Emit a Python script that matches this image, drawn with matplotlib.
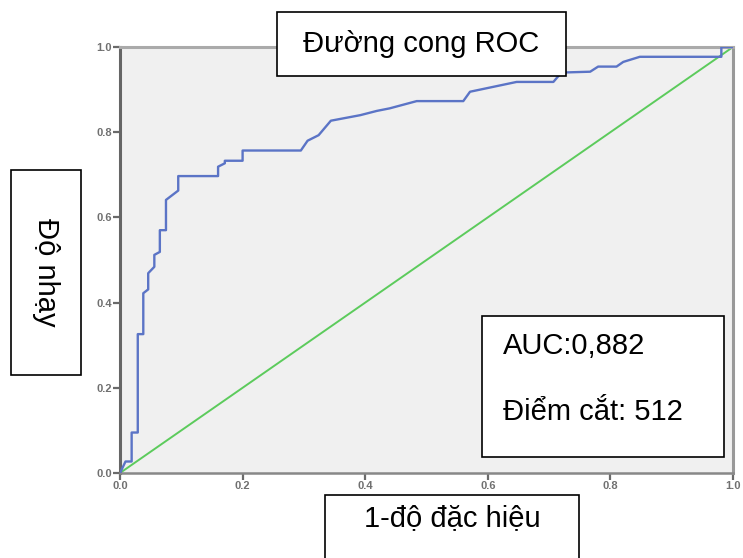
import numpy as np
import matplotlib.pyplot as plt
from matplotlib.patches import Rectangle

plt.rcParams['font.family'] = ['Liberation Sans', 'DejaVu Sans']

# ROC curve points (1 - specificity, sensitivity)
fpr = [0.0, 0.009, 0.019, 0.019, 0.029, 0.029, 0.038, 0.038, 0.046, 0.046,
       0.056, 0.056, 0.065, 0.065, 0.075, 0.075, 0.095, 0.095, 0.160, 0.160,
       0.171, 0.171, 0.200, 0.200, 0.295, 0.306, 0.324, 0.344, 0.392, 0.419,
       0.440, 0.484, 0.560, 0.571, 0.647, 0.707, 0.720, 0.767, 0.780, 0.810,
       0.821, 0.848, 0.981, 0.981, 1.0]
tpr = [0.0, 0.027, 0.027, 0.095, 0.095, 0.326, 0.326, 0.422, 0.431, 0.469,
       0.484, 0.512, 0.519, 0.570, 0.570, 0.641, 0.663, 0.697, 0.697, 0.719,
       0.727, 0.733, 0.733, 0.757, 0.757, 0.780, 0.793, 0.827, 0.840, 0.850,
       0.856, 0.873, 0.873, 0.895, 0.918, 0.918, 0.940, 0.942, 0.954, 0.954,
       0.965, 0.977, 0.977, 1.0, 1.0]
ref_line = [0.0, 1.0]
ticks = [0.0, 0.2, 0.4, 0.6, 0.8, 1.0]

title_txt = 'Đường cong ROC'
xlabel_txt = '1-độ đặc hiệu'
ylabel_txt = 'Độ nhạy'
auc_txt = 'AUC:0,882'
cut_txt = 'Điểm cắt: 512'

W, H = 743, 558
fig = plt.figure(figsize=(W / 100, H / 100), dpi=100)
ax = fig.add_axes([120 / W, (H - 473) / H, 613 / W, 426 / H])
ax.set_facecolor('#f0f0f0')

ax.plot(ref_line, ref_line, color='#5ccb5c', lw=1.4, zorder=2)
ax.plot(fpr, tpr, color='#5b74c6', lw=1.7, zorder=3)

ax.set_xlim(0, 1)
ax.set_ylim(0, 1)
ax.set_xticks(ticks)
ax.set_yticks(ticks)
ax.set_xticklabels(['%.1f' % t for t in ticks])
ax.set_yticklabels(['%.1f' % t for t in ticks])
ax.tick_params(direction='out', length=5, width=1.6, colors='#6a6a6a',
               labelsize=8, pad=1)
for lab in ax.get_xticklabels() + ax.get_yticklabels():
    lab.set_fontweight('bold')
    lab.set_color('#707070')

ax.spines['left'].set_color('#666666')
ax.spines['left'].set_linewidth(2.2)
ax.spines['bottom'].set_color('#888888')
ax.spines['bottom'].set_linewidth(1.8)
ax.spines['top'].set_color('#aaaaaa')
ax.spines['top'].set_linewidth(2.2)
ax.spines['right'].set_color('#999999')
ax.spines['right'].set_linewidth(2.2)


def box(x0, y0, x1, y1):
    # pixel box (top-left origin) -> figure rectangle
    r = Rectangle((x0 / W, 1 - y1 / H), (x1 - x0) / W, (y1 - y0) / H,
                  transform=fig.transFigure, facecolor='white',
                  edgecolor='black', lw=1.2, zorder=10, clip_on=False)
    fig.add_artist(r)


fs = 21
box(277, 12, 566, 76)
fig.text(421.5 / W, 1 - 44 / H, title_txt, ha='center', va='center',
         fontsize=fs, zorder=11)

box(11, 170, 81, 375)
fig.text(46 / W, 1 - 272 / H, ylabel_txt, ha='center', va='center',
         rotation=270, fontsize=fs, zorder=11)

box(482, 316, 724, 457)
fig.text(503 / W, 1 - 346 / H, auc_txt, ha='left', va='center',
         fontsize=fs, zorder=11)
fig.text(503 / W, 1 - 412 / H, cut_txt, ha='left', va='center',
         fontsize=fs, zorder=11)

box(325, 495, 579, 575)
fig.text(452 / W, 1 - 518 / H, xlabel_txt, ha='center', va='center',
         fontsize=fs, zorder=11)

fig.savefig('out.png', dpi=100)
